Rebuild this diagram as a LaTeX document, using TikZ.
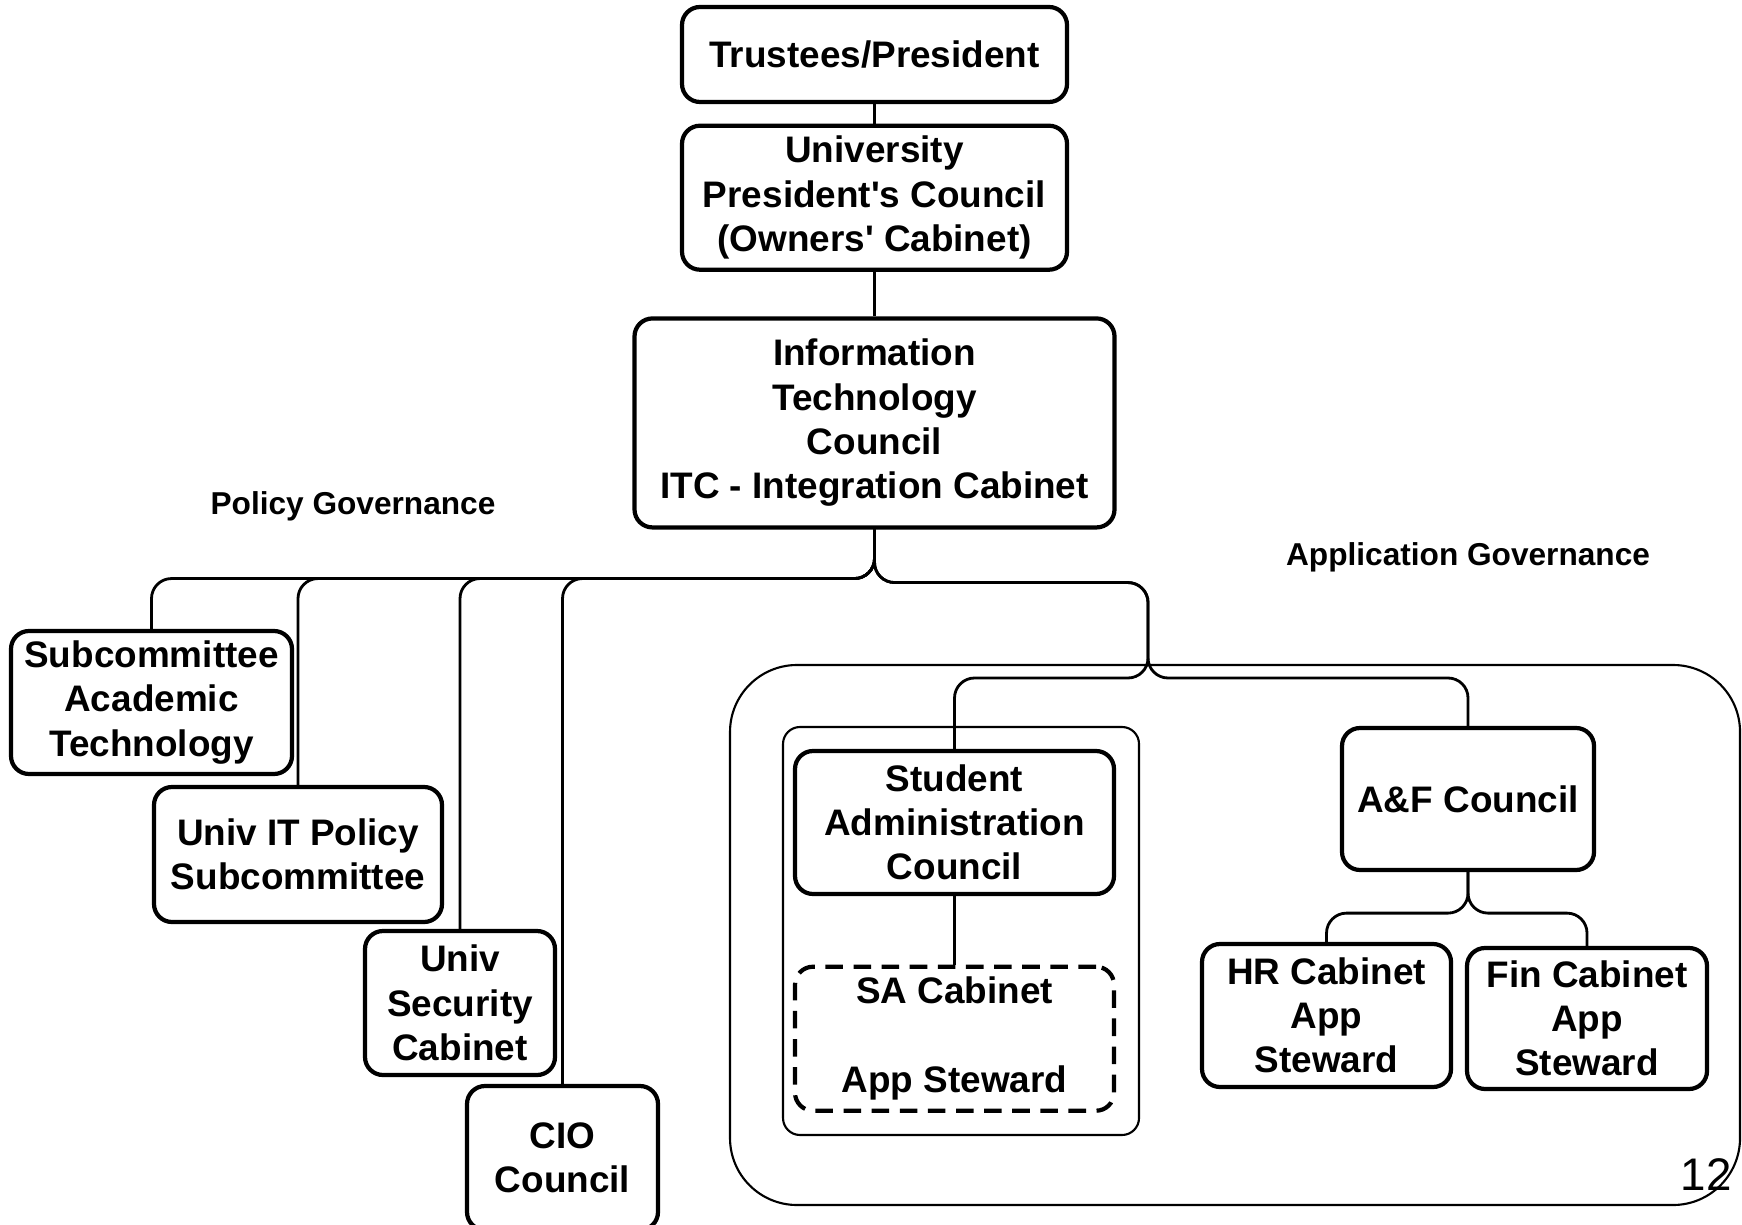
\documentclass[tikz,border=0pt]{standalone}
\usepackage{fontspec}
\setmainfont{Liberation Sans}
\usetikzlibrary{positioning,calc}
\tikzset{
  orgbox/.style ={draw=black, line width=1.2pt, rounded corners=0.18cm, fill=white, align=center,
                  inner sep=2pt, font=\fontsize{10.5}{12.6}\selectfont\bfseries},
  stewbox/.style={orgbox, dash pattern=on 5pt off 3pt},
  grpbox/.style ={draw=black, line width=0.6pt},
  lbl/.style    ={font=\fontsize{9}{11}\selectfont\bfseries},
  ln/.style     ={draw=black, line width=0.8pt, rounded corners=0.2cm},
}

\begin{document}
\begin{tikzpicture}
\useasboundingbox (0,0) rectangle (17.42,-12.25);
% frames of the application side
\node[grpbox, rounded corners=0.67cm, minimum width=10.10cm, minimum height=5.40cm] (appgrp) at (12.35,-9.35) {};
\node[grpbox, rounded corners=0.17cm, minimum width=3.56cm, minimum height=4.08cm] (sagrp) at (9.61,-9.31) {};
% main chain
\node[orgbox, minimum width=3.85cm, minimum height=0.95cm] (trust) at (8.745,-0.545) {Trustees/President};
\node[orgbox, minimum width=3.85cm, minimum height=1.44cm, below=0.195cm of trust] (upc) {University\\President\textquotesingle s Council\\(Owners\textquotesingle\ Cabinet)};
\node[orgbox, minimum width=4.80cm, minimum height=2.09cm, below=0.445cm of upc] (itc) {Information\\Technology\\Council\\ITC - Integration Cabinet};
% policy side
\node[lbl] (polgov) at (3.53,-5.06) {Policy Governance};
\node[orgbox, minimum width=2.81cm, minimum height=1.43cm] (subc) at (1.515,-7.025) {Subcommittee\\Academic\\Technology};
\node[orgbox, minimum width=2.88cm, minimum height=1.35cm] (itpol) at (2.98,-8.545) {Univ IT Policy\\Subcommittee};
\node[orgbox, minimum width=1.90cm, minimum height=1.44cm] (secur) at (4.60,-10.03) {Univ\\Security\\Cabinet};
\node[orgbox, minimum width=1.91cm, minimum height=1.44cm] (cio) at (5.625,-11.58) {CIO\\Council};
% application side
\node[lbl] (appgov) at (14.68,-5.57) {Application Governance};
\node[orgbox, minimum width=3.19cm, minimum height=1.43cm] (sac) at (9.545,-8.225) {Student\\Administration\\Council};
\node[stewbox, minimum width=3.19cm, minimum height=1.44cm, below=0.685cm of sac] (sacab) {SA Cabinet\\[12.6pt]App Steward};
\node[orgbox, minimum width=2.52cm, minimum height=1.42cm] (afc) at (14.68,-7.99) {A\&F Council};
\node[orgbox, minimum width=2.49cm, minimum height=1.43cm] (hrc) at (13.265,-10.155) {HR Cabinet\\App\\Steward};
\node[orgbox, minimum width=2.40cm, minimum height=1.41cm] (finc) at (15.87,-10.185) {Fin Cabinet\\App\\Steward};
\node[font=\fontsize{13}{15}\selectfont] (pgnum) at (17.06,-11.75) {12};
% connectors
\draw[ln] (trust) -- (upc);
\draw[ln] (upc) -- (itc);
\foreach \b in {subc,itpol,secur,cio}
  \draw[ln] (itc.south) -- ++(0,-0.49) -| (\b.north);
\coordinate (split) at (11.48,-6.78);
\foreach \b in {sac,afc}
  \draw[ln] (itc.south) -- ++(0,-0.53) -| (split) -| (\b.north);
\draw[ln] (sac) -- (sacab);
\foreach \b in {hrc,finc}
  \draw[ln] (afc.south) -- ++(0,-0.41) -| (\b.north);
\end{tikzpicture}
\end{document}
